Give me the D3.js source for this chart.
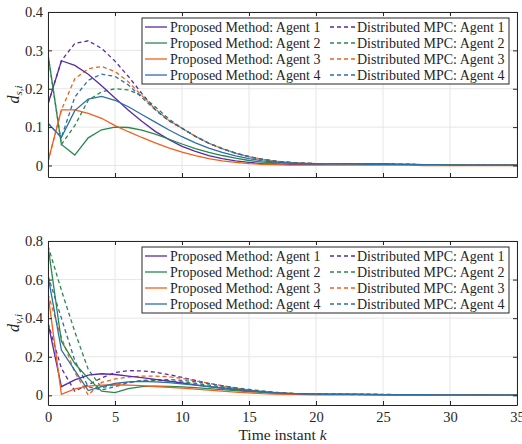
<!DOCTYPE html>
<html><head><meta charset="utf-8">
<script src="https://cdn.jsdelivr.net/npm/d3@7"></script>
<style>
html,body{margin:0;padding:0;background:#fff;}
svg text{font-family:"Liberation Serif","DejaVu Serif",serif;fill:#262626;}
</style></head>
<body><svg id="c" width="522" height="444"></svg>
<script>
// ---------- data ----------
const k = d3.range(0, 36);
const xTicks = [0, 5, 10, 15, 20, 25, 30, 35];
const yTicksTop = [0, 0.1, 0.2, 0.3, 0.4];
const yTicksBot = [0, 0.2, 0.4, 0.6, 0.8];
const agents = ["Agent 1", "Agent 2", "Agent 3", "Agent 4"];
const methods = ["Proposed Method", "Distributed MPC"];

// top panel d_s,i
const sProp1 = [0.160,0.273,0.261,0.238,0.208,0.176,0.144,0.115,0.089,0.068,0.050,0.037,0.026,0.018,0.012,0.008,0.005,0.004,0.003,0.003,0.003,0.004,0.004,0.004,0.004,0.004,0.003,0.003,0.002,0.002,0.002,0.001,0.001,0.001,0.001,0.001];
const sProp2 = [0.290,0.055,0.027,0.072,0.093,0.100,0.099,0.092,0.082,0.069,0.056,0.044,0.034,0.026,0.019,0.013,0.009,0.007,0.006,0.005,0.005,0.005,0.005,0.004,0.004,0.004,0.003,0.003,0.002,0.002,0.002,0.001,0.001,0.001,0.001,0.001];
const sProp3 = [0.010,0.145,0.145,0.136,0.123,0.104,0.088,0.073,0.059,0.046,0.035,0.026,0.018,0.012,0.008,0.005,0.003,0.002,0.001,0.001,0.001,0.001,0.001,0.001,0.001,0.001,0.001,0.001,0.000,0.000,0.000,0.000,0.000,0.000,0.000,0.000];
const sProp4 = [0.110,0.073,0.143,0.173,0.180,0.170,0.153,0.133,0.113,0.093,0.075,0.059,0.045,0.034,0.025,0.018,0.012,0.009,0.007,0.005,0.004,0.004,0.004,0.004,0.003,0.003,0.003,0.002,0.002,0.002,0.001,0.001,0.001,0.001,0.001,0.001];
const sMpc1 = [0.160,0.273,0.318,0.325,0.305,0.272,0.232,0.188,0.146,0.117,0.097,0.076,0.058,0.044,0.032,0.023,0.016,0.011,0.008,0.006,0.005,0.005,0.005,0.005,0.004,0.004,0.003,0.003,0.002,0.002,0.002,0.001,0.001,0.001,0.001,0.001];
const sMpc2 = [0.290,0.055,0.104,0.170,0.192,0.200,0.197,0.182,0.153,0.122,0.097,0.076,0.058,0.044,0.032,0.023,0.016,0.011,0.008,0.006,0.005,0.005,0.005,0.004,0.004,0.004,0.003,0.003,0.002,0.002,0.002,0.001,0.001,0.001,0.001,0.001];
const sMpc3 = [0.010,0.145,0.226,0.252,0.258,0.245,0.218,0.182,0.147,0.118,0.097,0.076,0.058,0.044,0.032,0.023,0.016,0.011,0.008,0.006,0.005,0.005,0.005,0.004,0.004,0.003,0.003,0.002,0.002,0.002,0.001,0.001,0.001,0.001,0.001,0.001];
const sMpc4 = [0.110,0.073,0.178,0.222,0.238,0.232,0.210,0.177,0.145,0.117,0.097,0.076,0.058,0.044,0.032,0.023,0.016,0.011,0.008,0.006,0.005,0.005,0.005,0.004,0.004,0.004,0.003,0.003,0.002,0.002,0.002,0.001,0.001,0.001,0.001,0.001];

// bottom panel d_v,i
const vProp1 = [0.375,0.045,0.080,0.105,0.112,0.108,0.100,0.092,0.083,0.074,0.064,0.054,0.045,0.037,0.029,0.022,0.017,0.012,0.009,0.007,0.006,0.005,0.005,0.005,0.005,0.004,0.004,0.003,0.003,0.003,0.002,0.002,0.002,0.001,0.001,0.001];
const vProp2 = [0.775,0.280,0.165,0.088,0.022,0.014,0.035,0.045,0.048,0.047,0.044,0.040,0.035,0.030,0.025,0.020,0.015,0.011,0.008,0.006,0.005,0.005,0.005,0.005,0.004,0.004,0.004,0.003,0.003,0.002,0.002,0.002,0.001,0.001,0.001,0.001];
const vProp3 = [0.525,0.005,0.033,0.048,0.053,0.055,0.053,0.050,0.046,0.042,0.037,0.032,0.027,0.022,0.017,0.013,0.009,0.007,0.005,0.004,0.003,0.003,0.003,0.002,0.002,0.002,0.002,0.001,0.001,0.001,0.001,0.001,0.000,0.000,0.000,0.000];
const vProp4 = [0.620,0.235,0.130,0.025,0.045,0.062,0.070,0.072,0.070,0.066,0.060,0.053,0.045,0.038,0.031,0.024,0.018,0.013,0.010,0.007,0.006,0.005,0.005,0.005,0.004,0.004,0.003,0.003,0.003,0.002,0.002,0.002,0.001,0.001,0.001,0.001];
const vMpc1 = [0.375,0.140,0.022,0.055,0.090,0.118,0.128,0.127,0.120,0.108,0.093,0.077,0.062,0.048,0.036,0.026,0.018,0.013,0.009,0.007,0.006,0.006,0.006,0.005,0.005,0.005,0.004,0.004,0.003,0.003,0.002,0.002,0.002,0.002,0.001,0.001];
const vMpc2 = [0.775,0.545,0.330,0.135,0.040,0.055,0.068,0.075,0.077,0.075,0.070,0.062,0.053,0.044,0.035,0.027,0.020,0.014,0.010,0.008,0.006,0.006,0.006,0.005,0.005,0.004,0.004,0.003,0.003,0.003,0.002,0.002,0.002,0.001,0.001,0.001];
const vMpc3 = [0.525,0.300,0.120,0.002,0.067,0.085,0.095,0.100,0.100,0.096,0.088,0.076,0.063,0.050,0.038,0.028,0.020,0.014,0.010,0.007,0.005,0.005,0.005,0.004,0.004,0.003,0.003,0.003,0.002,0.002,0.002,0.001,0.001,0.001,0.001,0.001];
const vMpc4 = [0.620,0.400,0.180,0.045,0.028,0.045,0.065,0.077,0.082,0.082,0.078,0.070,0.060,0.050,0.040,0.031,0.023,0.016,0.011,0.008,0.006,0.006,0.005,0.005,0.005,0.004,0.004,0.003,0.003,0.003,0.002,0.002,0.002,0.001,0.001,0.001];

const colors = ["#5b2a9e", "#27894c", "#f0601c", "#2e6ea9"];

// ---------- drawing ----------
const svg = d3.select("#c");
const L = 48, R = 517;
const x = d3.scaleLinear().domain([0, 35]).range([L, R]);
const LW = 1.3;

function panel(cfg) {
  const y = d3.scaleLinear().domain(cfg.ydom).range([cfg.bottom, cfg.top]);
  const g = svg.append("g");
  const id = "clip" + cfg.name;
  svg.append("clipPath").attr("id", id).append("rect")
    .attr("x", L).attr("y", cfg.top).attr("width", R - L).attr("height", cfg.bottom - cfg.top);
  // grid
  g.selectAll(".gx").data(xTicks).enter().append("line")
    .attr("x1", d => x(d)).attr("x2", d => x(d)).attr("y1", cfg.top).attr("y2", cfg.bottom)
    .attr("stroke", "#e6e6e6").attr("stroke-width", 1);
  g.selectAll(".gy").data(cfg.yticks).enter().append("line")
    .attr("x1", L).attr("x2", R).attr("y1", d => y(d)).attr("y2", d => y(d))
    .attr("stroke", "#e6e6e6").attr("stroke-width", 1);
  // series
  const line = d3.line().x((d, i) => x(k[i])).y(d => y(d));
  const lg = g.append("g").attr("clip-path", `url(#${id})`);
  cfg.mpc.forEach((s, i) => lg.append("path").attr("d", line(s)).attr("fill", "none")
    .attr("stroke", colors[i]).attr("stroke-width", LW).attr("stroke-dasharray", "4,3"));
  cfg.prop.forEach((s, i) => lg.append("path").attr("d", line(s)).attr("fill", "none")
    .attr("stroke", colors[i]).attr("stroke-width", LW));
  // axes with inward ticks
  const ax = g.append("g");
  const bAxis = d3.axisBottom(x).tickValues(xTicks).tickSizeInner(-4).tickSizeOuter(0)
    .tickFormat(cfg.xlabels ? d3.format("d") : () => "");
  const tAxis = d3.axisTop(x).tickValues(xTicks).tickSizeInner(-4).tickSizeOuter(0).tickFormat(() => "");
  const lAxis = d3.axisLeft(y).tickValues(cfg.yticks).tickSizeInner(-4).tickSizeOuter(0)
    .tickFormat(d => d === 0 ? "0" : d3.format(".1f")(d));
  const rAxis = d3.axisRight(y).tickValues(cfg.yticks).tickSizeInner(-4).tickSizeOuter(0).tickFormat(() => "");
  [[bAxis, `translate(0,${cfg.bottom})`], [tAxis, `translate(0,${cfg.top})`],
   [lAxis, `translate(${L},0)`], [rAxis, `translate(${R},0)`]].forEach(([a, t]) => {
    const gg = ax.append("g").attr("transform", t).call(a);
    gg.select(".domain").attr("stroke", "#262626").attr("stroke-width", 1);
    gg.selectAll(".tick line").attr("stroke", "#262626");
    gg.selectAll("text").style("font-size", "14.5px").attr("fill", "#262626")
      .style("font-family", '"Liberation Serif",serif');
  });
  ax.selectAll(".tick text").each(function() {
    const t = d3.select(this);
    if (t.attr("x") && +t.attr("x") < 0) t.attr("x", -5);
  });
  if (cfg.xlabels) ax.selectAll(".tick text").filter(function(){return +d3.select(this).attr("y") > 0;}).attr("y", 7);
  // y label
  const yl = g.append("text").attr("transform", `translate(${cfg.ylx},${(cfg.top + cfg.bottom) / 2}) rotate(-90)`)
    .attr("text-anchor", "middle").style("font-size", "16px");
  yl.append("tspan").text("d").style("font-style", "italic");
  yl.append("tspan").text(cfg.sub).style("font-style", "italic").style("font-size", "11px").attr("dy", 3);
  // legend
  const lgx = 142, lgw = 509 - 142, lgt = cfg.legTop, lgh = 66;
  const leg = g.append("g");
  leg.append("rect").attr("x", lgx).attr("y", lgt).attr("width", lgw).attr("height", lgh)
    .attr("fill", "#fff").attr("stroke", "#262626").attr("stroke-width", 1);
  agents.forEach((a, i) => {
    const ry = lgt + 9 + i * 16;
    leg.append("line").attr("x1", 145).attr("x2", 167).attr("y1", ry).attr("y2", ry)
      .attr("stroke", colors[i]).attr("stroke-width", LW);
    leg.append("text").attr("x", 170).attr("y", ry + 4.5).style("font-size", "14px").text(methods[0] + ": " + a);
    leg.append("line").attr("x1", 330).attr("x2", 355).attr("y1", ry).attr("y2", ry)
      .attr("stroke", colors[i]).attr("stroke-width", LW).attr("stroke-dasharray", "4,3");
    leg.append("text").attr("x", 357).attr("y", ry + 4.5).style("font-size", "14px").text(methods[1] + ": " + a);
  });
}

panel({name: "t", top: 12, bottom: 177, ydom: [-0.03, 0.4], yticks: yTicksTop,
  prop: [sProp1, sProp2, sProp3, sProp4], mpc: [sMpc1, sMpc2, sMpc3, sMpc4],
  xlabels: false, sub: "s,i", ylx: 19, legTop: 18});
panel({name: "b", top: 241, bottom: 405, ydom: [-0.05, 0.8], yticks: yTicksBot,
  prop: [vProp1, vProp2, vProp3, vProp4], mpc: [vMpc1, vMpc2, vMpc3, vMpc4],
  xlabels: true, sub: "v,i", ylx: 19, legTop: 247});

// x label
const xl = svg.append("text").attr("x", (L + R) / 2).attr("y", 440).attr("text-anchor", "middle").style("font-size", "15.5px");
xl.append("tspan").text("Time instant ");
xl.append("tspan").text("k").style("font-style", "italic");
</script></body></html>
